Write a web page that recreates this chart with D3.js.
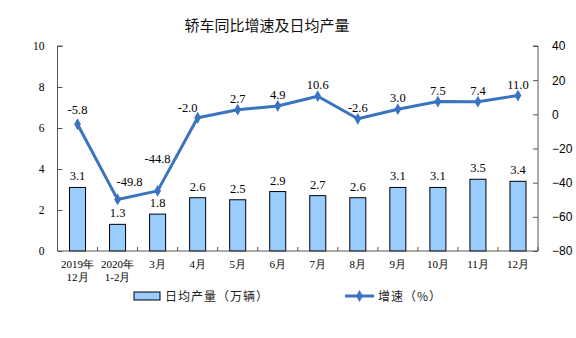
<!DOCTYPE html>
<html><head><meta charset="utf-8">
<script src="https://cdn.jsdelivr.net/npm/d3@7"></script>
<style>body{margin:0;background:#fff}</style>
</head><body>
<svg id="c" width="576" height="338"></svg>
<script>
const categories = ["2019年\n12月","2020年\n1-2月","3月","4月","5月","6月","7月","8月","9月","10月","11月","12月"];
const output = [3.1,1.3,1.8,2.6,2.5,2.9,2.7,2.6,3.1,3.1,3.5,3.4];
const growth = [-5.8,-49.8,-44.8,-2.0,2.7,4.9,10.6,-2.6,3.0,7.5,7.4,11.0];
const leftTicks = [0,2,4,6,8,10];
const rightTicks = [-80,-60,-40,-20,0,20,40];
const title = "轿车同比增速及日均产量";
const legendLabels = ["日均产量（万辆）","增速（%）"];

// label nudges (layout, in px): [dx, dy of baseline relative to point]
const lineLabelNudge = {0:[0,-10],1:[12,-13],2:[0,-28],3:[-10,-6]};

const svg = d3.select("#c");
const L = 57.5, R = 538, T = 46, B = 251;
const serif = "'Liberation Serif','Times New Roman',serif";
const sans = "'Liberation Sans',Arial,sans-serif";
const cjk = "'Noto Sans CJK SC',sans-serif";
const lineColor = "#3a73bf";

const x = d3.scaleBand().domain(d3.range(categories.length)).range([L,R]).paddingInner(0.6).paddingOuter(0.3);
const xb = d3.scaleBand().domain(d3.range(categories.length)).range([L,R]);
const yL = d3.scaleLinear().domain([0,10]).range([B,T]);
const yR = d3.scaleLinear().domain([-80,40]).range([B,T]);

svg.append("text").attr("x",267).attr("y",31).attr("text-anchor","middle")
  .attr("font-family",cjk).attr("font-size",15).attr("fill","#111").text(title);

// left axis (ticks inward)
const la = svg.append("g").attr("transform",`translate(${L},0)`)
  .call(d3.axisLeft(yL).tickValues(leftTicks).tickSize(-5).tickPadding(13).tickFormat(d3.format("d")));
la.selectAll("text").attr("font-family",serif).attr("font-size",11.5).attr("fill","#000");
la.selectAll("line,path").attr("stroke","#555");
la.select(".domain").attr("d",`M5,${T}H0V${B}`);

// right axis (ticks inward)
const ra = svg.append("g").attr("transform",`translate(${R},0)`)
  .call(d3.axisRight(yR).tickValues(rightTicks).tickSize(-5).tickPadding(14).tickFormat(d3.format("d")));
ra.selectAll("text").attr("font-family",sans).attr("font-size",12).attr("fill","#000");
ra.selectAll("line,path").attr("stroke","#555");
ra.select(".domain").attr("d",`M-5,${T}H0V${B}`);

// bars
svg.append("g").selectAll("rect").data(output).join("rect")
  .attr("x",(d,i)=>x(i)).attr("width",x.bandwidth())
  .attr("y",d=>yL(d)).attr("height",d=>B-yL(d))
  .attr("fill","#99ccff").attr("stroke","#000").attr("stroke-width",1);

// bottom axis
const ba = svg.append("g").attr("transform",`translate(0,${B})`);
ba.append("line").attr("x1",L).attr("x2",R).attr("stroke","#555");
ba.selectAll("line.t").data(d3.range(categories.length+1)).join("line").attr("class","t")
  .attr("x1",i=>L+i*xb.bandwidth()).attr("x2",i=>L+i*xb.bandwidth()).attr("y1",0).attr("y2",-4).attr("stroke","#555");
const xl = ba.selectAll("text").data(categories).join("text")
  .attr("text-anchor","middle").attr("font-family",serif).attr("font-size",11).attr("fill","#000");
xl.each(function(d,i){
  d3.select(this).selectAll("tspan").data(d.split("\n")).join("tspan")
    .attr("x",xb(i)+xb.bandwidth()/2).attr("y",(p,j)=>17+j*13).text(p=>p);
});

// bar labels
svg.append("g").selectAll("text").data(output).join("text")
  .attr("x",(d,i)=>x(i)+x.bandwidth()/2).attr("y",d=>yL(d)-7)
  .attr("text-anchor","middle").attr("font-family",serif).attr("font-size",12.5).attr("fill","#000")
  .text(d=>d.toFixed(1));

// line
const cx = i=>xb(i)+xb.bandwidth()/2;
svg.append("path").datum(growth)
  .attr("d",d3.line().x((d,i)=>cx(i)).y(d=>yR(d)))
  .attr("fill","none").attr("stroke",lineColor).attr("stroke-width",3).attr("stroke-linejoin","round");
svg.append("g").selectAll("path").data(growth).join("path")
  .attr("transform",(d,i)=>`translate(${cx(i)},${yR(d)})`)
  .attr("d",d3.symbol(d3.symbolDiamond,40)).attr("fill",lineColor);
svg.append("g").selectAll("text").data(growth).join("text")
  .attr("x",(d,i)=>cx(i)+(lineLabelNudge[i]?lineLabelNudge[i][0]:0))
  .attr("y",(d,i)=>yR(d)+(lineLabelNudge[i]?lineLabelNudge[i][1]:-7))
  .attr("text-anchor","middle").attr("font-family",serif).attr("font-size",12.5).attr("fill","#000")
  .text(d=>d.toFixed(1));

// legend
const lg = svg.append("g");
lg.append("rect").attr("x",134).attr("y",292).attr("width",26).attr("height",8).attr("fill","#99ccff").attr("stroke","#000");
lg.append("text").attr("x",165).attr("y",300.5).attr("font-family",cjk).attr("font-size",12).attr("fill","#222").attr("letter-spacing",1).text(legendLabels[0]);
lg.append("line").attr("x1",345).attr("x2",374).attr("y1",296).attr("y2",296).attr("stroke",lineColor).attr("stroke-width",3);
lg.append("path").attr("transform","translate(359.5,296)").attr("d",d3.symbol(d3.symbolDiamond,40)).attr("fill",lineColor);
lg.append("text").attr("x",378).attr("y",300.5).attr("font-family",cjk).attr("font-size",12).attr("fill","#222").attr("letter-spacing",1).text(legendLabels[1]);
</script>
</body></html>
